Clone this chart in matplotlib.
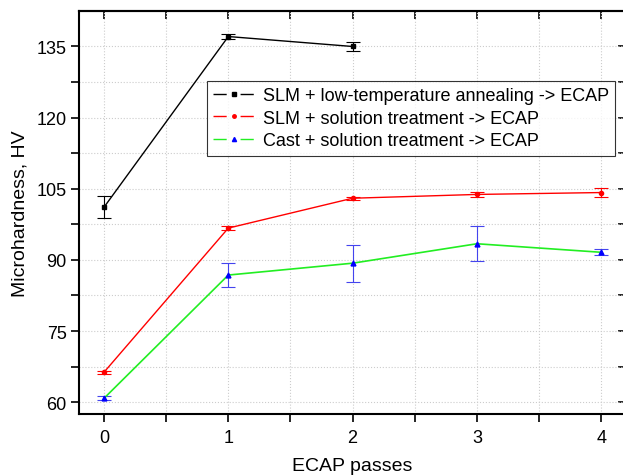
import matplotlib.pyplot as plt
from matplotlib.lines import Line2D

plt.rcParams['font.family'] = ['Liberation Sans', 'DejaVu Sans']

passes = [0, 1, 2, 3, 4]

# SLM + low-temperature annealing -> ECAP (only 0..2)
slm_lt_x = [0, 1, 2]
slm_lt = [101.1, 137.1, 135.0]
slm_lt_err = [2.3, 0.6, 1.0]

# SLM + solution treatment -> ECAP
slm_st = [66.3, 96.7, 103.0, 103.8, 104.2]
slm_st_err = [0.3, 0.4, 0.3, 0.5, 0.9]

# Cast + solution treatment -> ECAP
cast_st = [60.8, 86.8, 89.3, 93.4, 91.6]
cast_st_err = [0.4, 2.6, 3.9, 3.7, 0.6]

labels = ['SLM + low-temperature annealing -> ECAP',
          'SLM + solution treatment -> ECAP',
          'Cast + solution treatment -> ECAP']

major_y = [60, 75, 90, 105, 120, 135]
minor_y = [67.5, 82.5, 97.5, 112.5, 127.5]
minor_x = [0.5, 1.5, 2.5, 3.5]

fig = plt.figure(figsize=(6.23, 4.77), dpi=100)
ax = fig.add_axes([0.127, 0.130, 0.878, 0.845])

ax.errorbar(slm_lt_x, slm_lt, yerr=slm_lt_err, color='black', lw=1,
            marker='s', ms=3, ecolor='black', elinewidth=0.8, capsize=5,
            capthick=0.8)
ax.errorbar(passes, slm_st, yerr=slm_st_err, color='#ff0000', lw=1,
            marker='o', ms=3, ecolor='#ff0000', elinewidth=0.8, capsize=5,
            capthick=0.8)
ax.errorbar(passes, cast_st, yerr=cast_st_err, color='#22ee22', lw=1.2,
            marker='^', ms=3.5, mfc='#0000ff', mec='#0000ff',
            ecolor='#4444ee', elinewidth=0.8, capsize=5, capthick=0.8)

ax.set_xlim(-0.2, 4.2)
ax.set_ylim(57.5, 142.5)
ax.set_xticks(passes)
ax.set_xticks(minor_x, minor=True)
ax.set_yticks(major_y)
ax.set_yticks(minor_y, minor=True)
ax.grid(True, which='both', color='#cccccc', ls=':', lw=0.8)
ax.set_axisbelow(True)

ax.tick_params(which='both', direction='out', length=6, width=1.2,
               labelsize=13, pad=3)
ax.tick_params(axis='x', which='both', pad=5)

# top and right ticks point inward
ax2 = ax.secondary_xaxis('top')
ax2.set_xticks(passes, labels=[])
ax2.set_xticks(minor_x, minor=True)
ax2.tick_params(which='both', direction='in', length=6, width=1.2)
ax3 = ax.secondary_yaxis('right')
ax3.set_yticks(major_y, labels=[])
ax3.set_yticks(minor_y, minor=True)
ax3.tick_params(which='both', direction='in', length=6, width=1.2)
for sp in list(ax.spines.values()) + [ax2.spines['top'], ax3.spines['right']]:
    sp.set_linewidth(1.5)

ax.set_xlabel('ECAP passes', fontsize=14, labelpad=8)
ax.set_ylabel('Microhardness, HV', fontsize=14, labelpad=6)

# legend handle: line - marker - line
dash = (0, (9.5, 10, 9.5, 100))
handles = [
    Line2D([], [], color='black', lw=1, ls=dash, marker='s', ms=2.5),
    Line2D([], [], color='#ff0000', lw=1, ls=dash, marker='o', ms=2.5),
    Line2D([], [], color='#22ee22', lw=1, ls=dash, marker='^', ms=3,
           mfc='#0000ff', mec='#0000ff'),
]
leg = ax.legend(handles, labels, loc='upper left',
                bbox_to_anchor=(0.234, 0.826),
                fontsize=13, frameon=True, fancybox=False,
                edgecolor='black', handlelength=2.23, borderpad=0.35,
                labelspacing=0.3, handletextpad=0.5, borderaxespad=0)
leg.get_frame().set_linewidth(0.8)

fig.savefig('out.png', dpi=100)
